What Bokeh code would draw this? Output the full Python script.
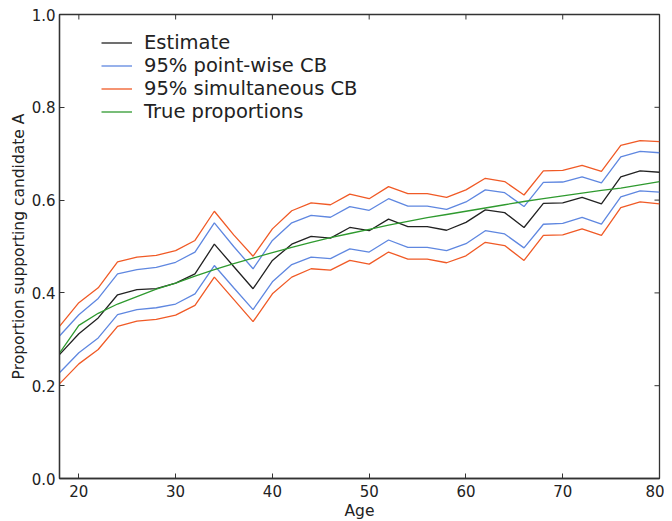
from bokeh.plotting import figure
from bokeh.models import Range1d, FixedTicker, Legend, LegendItem, NumeralTickFormatter
from bokeh.embed import file_html
from bokeh.resources import INLINE

ages = [18, 20, 22, 24, 26, 28, 30, 32, 34, 36, 38, 40, 42, 44, 46, 48,
        50, 52, 54, 56, 58, 60, 62, 64, 66, 68, 70, 72, 74, 76, 78, 80]

estimate = [0.267, 0.312, 0.346, 0.396, 0.407, 0.409, 0.421, 0.441, 0.505, 0.457, 0.409, 0.470, 0.505, 0.522, 0.518, 0.541,
            0.534, 0.559, 0.543, 0.543, 0.535, 0.552, 0.579, 0.573, 0.541, 0.593, 0.594, 0.606, 0.592, 0.650, 0.663, 0.660]

pw_upper = [0.307, 0.353, 0.388, 0.441, 0.450, 0.455, 0.466, 0.488, 0.551, 0.500, 0.452, 0.513, 0.551, 0.567, 0.563, 0.586,
            0.578, 0.603, 0.587, 0.587, 0.580, 0.596, 0.622, 0.616, 0.586, 0.638, 0.639, 0.650, 0.637, 0.693, 0.705, 0.702]

pw_lower = [0.228, 0.271, 0.303, 0.353, 0.364, 0.368, 0.376, 0.398, 0.459, 0.411, 0.364, 0.424, 0.461, 0.477, 0.474, 0.495,
            0.488, 0.514, 0.498, 0.498, 0.491, 0.506, 0.534, 0.527, 0.497, 0.548, 0.550, 0.563, 0.548, 0.607, 0.620, 0.617]

sim_upper = [0.328, 0.379, 0.411, 0.467, 0.477, 0.481, 0.491, 0.513, 0.576, 0.525, 0.479, 0.538, 0.577, 0.594, 0.590, 0.613,
             0.603, 0.629, 0.614, 0.614, 0.606, 0.622, 0.647, 0.640, 0.611, 0.663, 0.664, 0.675, 0.662, 0.718, 0.728, 0.726]

sim_lower = [0.204, 0.247, 0.278, 0.328, 0.339, 0.343, 0.352, 0.373, 0.434, 0.386, 0.338, 0.398, 0.434, 0.452, 0.449, 0.470,
             0.462, 0.488, 0.473, 0.473, 0.465, 0.480, 0.509, 0.502, 0.470, 0.524, 0.525, 0.538, 0.524, 0.584, 0.596, 0.592]

true_prop = [0.270, 0.330, 0.356, 0.376, 0.392, 0.408, 0.421, 0.436, 0.450, 0.463, 0.475, 0.487, 0.498, 0.509, 0.519, 0.528,
             0.537, 0.546, 0.554, 0.562, 0.569, 0.576, 0.583, 0.590, 0.597, 0.603, 0.609, 0.615, 0.621, 0.626, 0.633, 0.640]

x_ticks = [20, 30, 40, 50, 60, 70, 80]
y_ticks = [0.0, 0.2, 0.4, 0.6, 0.8, 1.0]

BLACK = "#222222"
BLUE = "#5f87e0"
ORANGE = "#f05a26"
GREEN = "#2f9a2f"
AX = "#333333"
FONT = "DejaVu Sans"

FW, FH = 600, 464
TICK = 5

x0, x1 = 18, 80
y0, y1 = 0, 1

p = figure(frame_width=FW, frame_height=FH, output_backend="svg", toolbar_location=None,
           x_range=Range1d(x0, x1), y_range=Range1d(y0, y1),
           min_border_left=10, min_border_top=14, min_border_right=5, min_border_bottom=5)
p.margin = (0, 0, 0, 6)
p.grid.visible = False
p.outline_line_color = AX
p.outline_line_width = 1.3
p.background_fill_color = "white"
p.border_fill_color = "white"

for ax in (p.xaxis[0], p.yaxis[0]):
    ax.major_tick_in = TICK
    ax.major_tick_out = 0
    ax.minor_tick_line_color = None
    ax.axis_line_color = AX
    ax.axis_line_width = 1.3
    ax.major_tick_line_color = AX
    ax.major_label_text_font = FONT
    ax.major_label_text_font_size = "15px"
    ax.major_label_text_color = "#222222"
    ax.axis_label_text_font = FONT
    ax.axis_label_text_font_size = "15.5px"
    ax.axis_label_text_font_style = "normal"
    ax.axis_label_text_color = "#222222"

p.xaxis.ticker = FixedTicker(ticks=x_ticks)
p.yaxis.ticker = FixedTicker(ticks=y_ticks)
p.yaxis.formatter = NumeralTickFormatter(format="0.0")
p.xaxis.axis_label = "Age"
p.yaxis.axis_label = "Proportion supporting candidate A"
p.xaxis.major_label_standoff = 6
p.yaxis.major_label_standoff = 4
p.xaxis.axis_label_standoff = 2
p.yaxis.axis_label_standoff = 1

# inward ticks on the top and right edges of the frame (matplotlib box style)
dx = (x1 - x0) * TICK / FW
dy = (y1 - y0) * TICK / FH
p.segment(x0=x_ticks, y0=[y1] * len(x_ticks), x1=x_ticks, y1=[y1 - dy] * len(x_ticks),
          line_color=AX, line_width=1)
p.segment(x0=[x1] * len(y_ticks), y0=y_ticks, x1=[x1 - dx] * len(y_ticks), y1=y_ticks,
          line_color=AX, line_width=1)

r_est = p.line(ages, estimate, line_color=BLACK, line_width=1.3)
r_pw = p.line(ages, pw_upper, line_color=BLUE, line_width=1.3)
p.line(ages, pw_lower, line_color=BLUE, line_width=1.3)
r_sim = p.line(ages, sim_upper, line_color=ORANGE, line_width=1.3)
p.line(ages, sim_lower, line_color=ORANGE, line_width=1.3)
r_true = p.line(ages, true_prop, line_color=GREEN, line_width=1.3)

legend = Legend(items=[
    LegendItem(label="Estimate", renderers=[r_est]),
    LegendItem(label="95% point-wise CB", renderers=[r_pw]),
    LegendItem(label="95% simultaneous CB", renderers=[r_sim]),
    LegendItem(label="True proportions", renderers=[r_true]),
], location=(42, 355), border_line_color=None, background_fill_alpha=0,
    padding=0, margin=0, spacing=0, glyph_width=31, glyph_height=23, label_height=23,
    label_standoff=12, label_text_font=FONT, label_text_font_size="19.5px",
    label_text_color="#222222")
p.add_layout(legend)

open("out.html", "w").write(file_html(p, INLINE))
